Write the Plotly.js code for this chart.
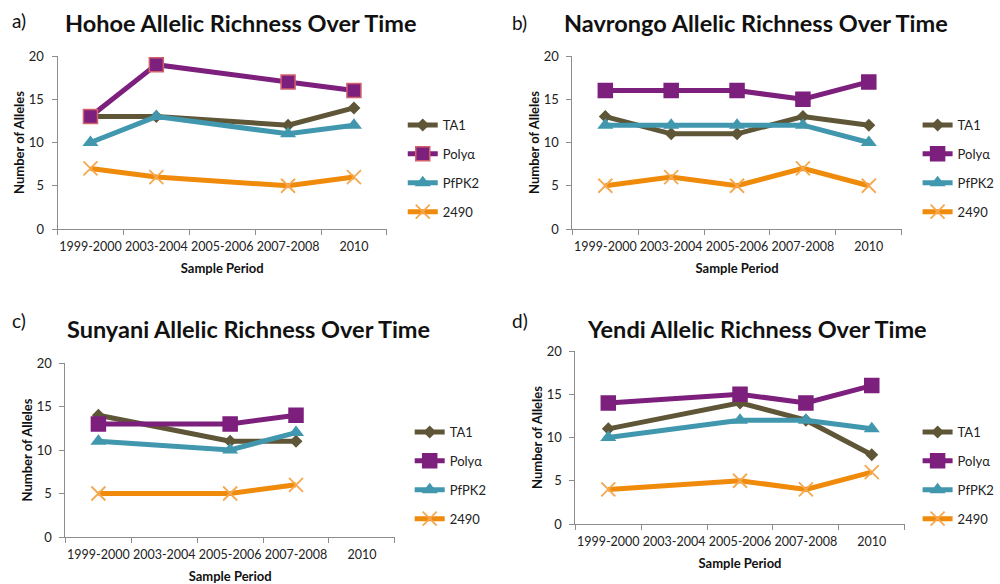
<!DOCTYPE html>
<html>
<head>
<meta charset="utf-8">
<script src="https://cdn.plot.ly/plotly-3.0.1.min.js"></script>
<style>html,body{margin:0;padding:0;background:#fff;}#chart{width:1000px;height:584px;}</style>
</head>
<body>
<div id="chart"></div>
<script>
const categories = ['1999-2000','2003-2004','2005-2006','2007-2008','2010'];
const seriesNames = ['TA1','Polyα','PfPK2','2490'];

const hohoeTA1   = [13, 13, null, 12, 14];
const hohoePoly  = [13, 19, null, 17, 16];
const hohoePfPK2 = [10, 13, null, 11, 12];
const hohoe2490  = [7, 6, null, 5, 6];

const navrongoTA1   = [13, 11, 11, 13, 12];
const navrongoPoly  = [16, 16, 16, 15, 17];
const navrongoPfPK2 = [12, 12, 12, 12, 10];
const navrongo2490  = [5, 6, 5, 7, 5];

const sunyaniTA1   = [14, null, 11, 11, null];
const sunyaniPoly  = [13, null, 13, 14, null];
const sunyaniPfPK2 = [11, null, 10, 12, null];
const sunyani2490  = [5, null, 5, 6, null];

const yendiTA1   = [11, null, 14, 12, 8];
const yendiPoly  = [14, null, 15, 14, 16];
const yendiPfPK2 = [10, null, 12, 12, 11];
const yendi2490  = [4, null, 5, 4, 6];

const panelTitles = ['Hohoe Allelic Richness Over Time','Navrongo Allelic Richness Over Time','Sunyani Allelic Richness Over Time','Yendi Allelic Richness Over Time'];
const panelLabels = ['a)','b)','c)','d)'];
const yAxisTitle = 'Number of Alleles';
const xAxisTitle = 'Sample Period';

const panelData = [
  [hohoeTA1, hohoePoly, hohoePfPK2, hohoe2490],
  [navrongoTA1, navrongoPoly, navrongoPfPK2, navrongo2490],
  [sunyaniTA1, sunyaniPoly, sunyaniPfPK2, sunyani2490],
  [yendiTA1, yendiPoly, yendiPfPK2, yendi2490]
];

const W = 1000, H = 584;
const FONT = 'Lato, "Open Sans", sans-serif';
// pixel geometry of each panel's plot area
const geo = [
  {x0: 58, x1: 390, yTop: 56, yBot: 229, legX: 406, legY: 110, tx: 243, ty: 23, lx: 19, ly: 20},
  {x0: 577, x1: 909, yTop: 56, yBot: 229, legX: 925, legY: 110, tx: 762, ty: 23, lx: 524, ly: 22},
  {x0: 66, x1: 398, yTop: 363, yBot: 537, legX: 413, legY: 417, tx: 250, ty: 329, lx: 19, ly: 320},
  {x0: 580, x1: 912, yTop: 351, yBot: 524, legX: 925, legY: 417, tx: 763, ty: 329, lx: 524, ly: 320}
];

const lineColors = ['#5e5637', '#7d1f7d', '#4198ae', '#f08a0b'];
const markerStyles = [
  {symbol: 'diamond', size: 10, color: '#5e5637', line: {width: 0}},
  {symbol: 'square', size: 14, color: '#7d1f7d', line: {width: 1.5, color: '#7d1f7d'}},
  {symbol: 'triangle-up', size: 14, color: '#4198ae', line: {width: 0}},
  {symbol: 'x-thin', size: 14, color: '#f5a84e', line: {width: 1.8, color: '#f5a84e'}}
];

const traces = [];
const layout = {
  width: W, height: H,
  margin: {l: 0, r: 0, t: 0, b: 0},
  paper_bgcolor: '#fff', plot_bgcolor: '#fff',
  font: {family: FONT, color: '#222', size: 13},
  annotations: [],
  showlegend: true
};

for (let p = 0; p < 4; p++) {
  const g = geo[p];
  const sfx = p === 0 ? '' : String(p + 1);
  const legendId = 'legend' + sfx;
  for (let s = 0; s < 4; s++) {
    const m = JSON.parse(JSON.stringify(markerStyles[s]));
    if (p === 0 && s === 1) m.line.color = '#d2616a';
    traces.push({
      type: 'scatter', mode: 'lines+markers',
      name: seriesNames[s],
      x: categories, y: panelData[p][s],
      xaxis: 'x' + sfx, yaxis: 'y' + sfx,
      connectgaps: true,
      line: {color: lineColors[s], width: 5},
      marker: m,
      legend: legendId,
      legendgroup: 'p' + p + 's' + s,
      hoverinfo: 'x+y+name'
    });
  }
  layout['xaxis' + sfx] = {
    domain: [g.x0 / W, g.x1 / W],
    anchor: 'y' + sfx,
    type: 'category',
    categoryorder: 'array', categoryarray: categories,
    range: [-0.5, 4.5],
    tickson: 'boundaries',
    tickangle: 0,
    ticks: 'outside', ticklen: 5, tickcolor: '#8c8c8c',
    ticklabelstandoff: 6,
    showline: true, linecolor: '#8c8c8c', linewidth: 1,
    showgrid: false, zeroline: false,
    automargin: false,
    tickfont: {family: FONT, size: 12.5, color: '#222'},
    title: {text: xAxisTitle, font: {family: FONT, size: 13, weight: 'bold', color: '#111'}, standoff: 10}
  };
  layout['yaxis' + sfx] = {
    domain: [1 - g.yBot / H, 1 - g.yTop / H],
    anchor: 'x' + sfx,
    range: [0, 20], dtick: 5,
    ticks: 'outside', ticklen: 5, tickcolor: '#8c8c8c',
    showline: true, linecolor: '#8c8c8c', linewidth: 1,
    showgrid: false, zeroline: false,
    automargin: false,
    ticklabelstandoff: 5,
    tickfont: {family: FONT, size: 13, color: '#222'},
    title: {text: yAxisTitle, font: {family: FONT, size: 13, weight: 'bold', color: '#111'}, standoff: 1}
  };
  layout[legendId] = {
    x: g.legX / W, y: 1 - g.legY / H,
    xanchor: 'left', yanchor: 'top',
    xref: 'paper', yref: 'paper',
    bgcolor: 'rgba(0,0,0,0)', borderwidth: 0,
    font: {family: FONT, size: 13, color: '#222'},
    tracegroupgap: 9,
    itemwidth: 30
  };
  layout.annotations.push({
    text: panelTitles[p], xref: 'paper', yref: 'paper',
    x: g.tx / W, y: 1 - g.ty / H, xanchor: 'center', yanchor: 'middle',
    showarrow: false, font: {family: FONT, size: 23.5, weight: 'bold', color: '#111'}
  });
  layout.annotations.push({
    text: panelLabels[p], xref: 'paper', yref: 'paper',
    x: g.lx / W, y: 1 - g.ly / H, xanchor: 'center', yanchor: 'middle',
    showarrow: false, font: {family: FONT, size: 19, color: '#111'}
  });
}

Plotly.newPlot('chart', traces, layout, {displayModeBar: false, staticPlot: true});
</script>
</body>
</html>
